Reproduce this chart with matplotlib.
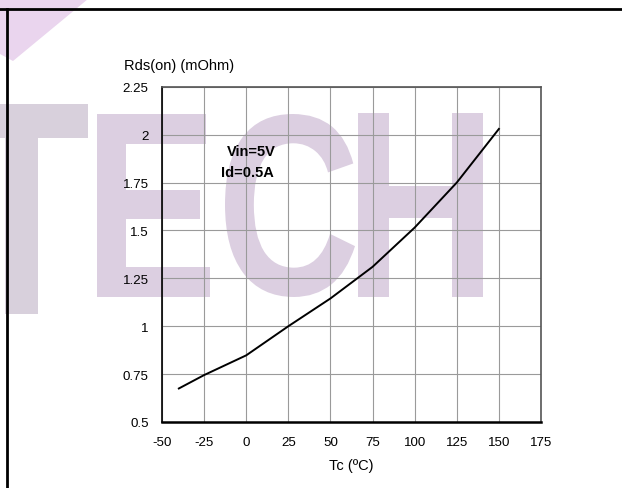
import matplotlib
matplotlib.use("Agg")
import matplotlib.pyplot as plt
from matplotlib.lines import Line2D
from matplotlib.patches import PathPatch, Polygon
from matplotlib.textpath import TextPath
from matplotlib.font_manager import FontProperties
from matplotlib.transforms import Affine2D

# curve
tc = [-40, -25, 0, 25, 50, 75, 100, 125, 150]
rds = [0.675, 0.745, 0.848, 1.0, 1.145, 1.31, 1.515, 1.75, 2.03]

x_ticks = [-50, -25, 0, 25, 50, 75, 100, 125, 150, 175]
y_ticks = [0.5, 0.75, 1, 1.25, 1.5, 1.75, 2, 2.25]
y_tick_labels = ["0.5", "0.75", "1", "1.25", "1.5", "1.75", "2", "2.25"]

plt.rcParams['font.family'] = ['Liberation Sans', 'DejaVu Sans']
plt.rcParams['axes.unicode_minus'] = False

W, H = 622, 489
fig = plt.figure(figsize=(W / 100, H / 100), dpi=100)
fig.patch.set_facecolor('white')


def wm_letter(ch, x0, y0, x1, y1, color):
    # watermark letter stretched into a pixel box (top-left origin)
    tp = TextPath((0, 0), ch, size=1, prop=FontProperties(family='Liberation Sans', weight='bold'))
    bb = tp.get_extents()
    sx = (x1 - x0) / bb.width
    sy = (y1 - y0) / bb.height
    tr = Affine2D().translate(-bb.x0, -bb.y0).scale(sx, sy).translate(x0, H - y1)
    fig.add_artist(PathPatch(tp, transform=tr, fc=color, ec='none', zorder=-5))


# faint "TECH" watermark behind the chart
fig.add_artist(Polygon([(0, H), (88, H), (13, H - 62), (0, H - 55)], closed=True,
                       transform=Affine2D(), fc='#ead5ee', ec='none', zorder=-6))
wm_letter('T', -45, 105, 88, 315, '#d8d0dc')
wm_letter('E', 97, 115, 210, 298, '#dccfe1')
wm_letter('C', 225, 115, 355, 298, '#dccfe1')
wm_letter('H', 358, 114, 483, 298, '#dccfe1')

# page border lines
fig.add_artist(Line2D([0, 1], [1 - 10 / H, 1 - 10 / H], transform=fig.transFigure, color='black', lw=2))
fig.add_artist(Line2D([7 / W, 7 / W], [0, 1 - 10 / H], transform=fig.transFigure, color='black', lw=2))

ax = fig.add_axes([162 / W, (H - 423) / H, (541 - 162) / W, (423 - 87.8) / H])
ax.set_facecolor('none')

ax.plot(tc, rds, color='black', lw=1.4, zorder=3)

ax.set_xlim(-50, 175)
ax.set_ylim(0.5, 2.25)
ax.set_xticks(x_ticks)
ax.set_yticks(y_ticks)
ax.set_yticklabels(y_tick_labels)
ax.tick_params(length=0, labelsize=9.6, colors='black')
ax.tick_params(axis='y', pad=9.5)
ax.tick_params(axis='x', pad=10)
ax.grid(True, color='#9a9a9a', lw=0.8)

ax.spines['left'].set_color('black')
ax.spines['left'].set_linewidth(1.2)
ax.spines['bottom'].set_color('black')
ax.spines['bottom'].set_linewidth(1.8)
ax.spines['top'].set_color('#555555')
ax.spines['top'].set_linewidth(1.2)
ax.spines['right'].set_color('#555555')
ax.spines['right'].set_linewidth(1.2)

ax.set_xlabel('Tc (ºC)', fontsize=10.5, labelpad=7)
fig.text(124 / W, 1 - 66 / H, 'Rds(on) (mOhm)', fontsize=10.5, ha='left', va='center')

ax.text(3.3, 1.916, 'Vin=5V', fontsize=10.5, fontweight='bold', ha='center', va='center')
ax.text(0.65, 1.803, 'Id=0.5A', fontsize=10.5, fontweight='bold', ha='center', va='center')

fig.savefig('out.png', dpi=100)
